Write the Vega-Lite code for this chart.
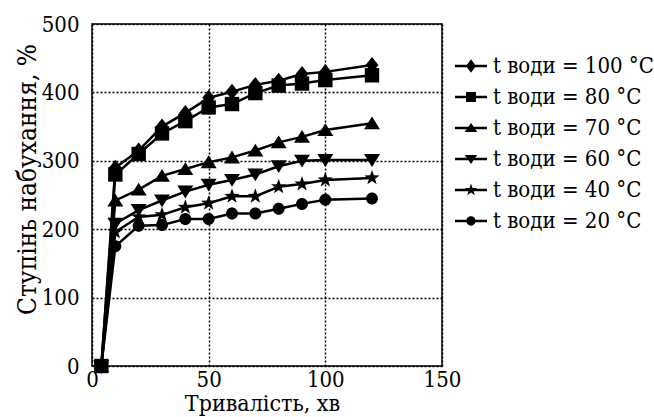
{
  "$schema": "https://vega.github.io/schema/vega-lite/v6.json",
  "autosize": {"type": "none"},
  "width": 350,
  "height": 342,
  "padding": {"left": 92, "top": 24, "right": 212, "bottom": 51},
  "background": "white",
  "config": {
    "view": {"stroke": "black", "strokeWidth": 1.5},
    "font": "DejaVu Serif Condensed, DejaVu Serif",
    "axis": {
      "labelFont": "DejaVu Serif Condensed, DejaVu Serif", "labelFontSize": 22, "labelColor": "black",
      "titleFont": "DejaVu Serif Condensed, DejaVu Serif", "titleFontSize": 23, "titleColor": "black", "titleFontWeight": "normal",
      "ticks": false, "domain": false,
      "grid": true, "gridColor": "black", "gridWidth": 1.5, "gridDash": [2, 2], "gridOpacity": 1
    },
    "legend": {"labelFont": "DejaVu Serif Condensed, DejaVu Serif"}
  },
  "data": {"values": [
    {"T": "100", "x": 4, "y": 0}, {"T": "100", "x": 10, "y": 290}, {"T": "100", "x": 20, "y": 315}, {"T": "100", "x": 30, "y": 350}, {"T": "100", "x": 40, "y": 370}, {"T": "100", "x": 50, "y": 392}, {"T": "100", "x": 60, "y": 401}, {"T": "100", "x": 70, "y": 411}, {"T": "100", "x": 80, "y": 417}, {"T": "100", "x": 90, "y": 427}, {"T": "100", "x": 100, "y": 430}, {"T": "100", "x": 120, "y": 440},
    {"T": "80", "x": 4, "y": 0}, {"T": "80", "x": 10, "y": 280}, {"T": "80", "x": 20, "y": 310}, {"T": "80", "x": 30, "y": 340}, {"T": "80", "x": 40, "y": 358}, {"T": "80", "x": 50, "y": 378}, {"T": "80", "x": 60, "y": 383}, {"T": "80", "x": 70, "y": 399}, {"T": "80", "x": 80, "y": 410}, {"T": "80", "x": 90, "y": 413}, {"T": "80", "x": 100, "y": 418}, {"T": "80", "x": 120, "y": 425},
    {"T": "70", "x": 4, "y": 0}, {"T": "70", "x": 10, "y": 242}, {"T": "70", "x": 20, "y": 258}, {"T": "70", "x": 30, "y": 278}, {"T": "70", "x": 40, "y": 288}, {"T": "70", "x": 50, "y": 298}, {"T": "70", "x": 60, "y": 305}, {"T": "70", "x": 70, "y": 315}, {"T": "70", "x": 80, "y": 327}, {"T": "70", "x": 90, "y": 335}, {"T": "70", "x": 100, "y": 345}, {"T": "70", "x": 120, "y": 355},
    {"T": "60", "x": 4, "y": 0}, {"T": "60", "x": 10, "y": 208}, {"T": "60", "x": 20, "y": 228}, {"T": "60", "x": 30, "y": 242}, {"T": "60", "x": 40, "y": 255}, {"T": "60", "x": 50, "y": 265}, {"T": "60", "x": 60, "y": 272}, {"T": "60", "x": 70, "y": 280}, {"T": "60", "x": 80, "y": 292}, {"T": "60", "x": 90, "y": 300}, {"T": "60", "x": 100, "y": 301}, {"T": "60", "x": 120, "y": 301},
    {"T": "40", "x": 4, "y": 0}, {"T": "40", "x": 10, "y": 196}, {"T": "40", "x": 20, "y": 218}, {"T": "40", "x": 30, "y": 221}, {"T": "40", "x": 40, "y": 232}, {"T": "40", "x": 50, "y": 238}, {"T": "40", "x": 60, "y": 248}, {"T": "40", "x": 70, "y": 248}, {"T": "40", "x": 80, "y": 262}, {"T": "40", "x": 90, "y": 266}, {"T": "40", "x": 100, "y": 272}, {"T": "40", "x": 120, "y": 275},
    {"T": "20", "x": 4, "y": 0}, {"T": "20", "x": 10, "y": 175}, {"T": "20", "x": 20, "y": 205}, {"T": "20", "x": 30, "y": 206}, {"T": "20", "x": 40, "y": 215}, {"T": "20", "x": 50, "y": 215}, {"T": "20", "x": 60, "y": 223}, {"T": "20", "x": 70, "y": 223}, {"T": "20", "x": 80, "y": 230}, {"T": "20", "x": 90, "y": 237}, {"T": "20", "x": 100, "y": 243}, {"T": "20", "x": 120, "y": 245}
  ]},
  "encoding": {
    "x": {"field": "x", "type": "quantitative", "scale": {"domain": [0, 150], "nice": false},
          "axis": {"values": [0, 50, 100, 150], "title": "Тривалість, хв", "labelPadding": 3, "titlePadding": 2, "titleX": 170, "labelFlush": false}},
    "y": {"field": "y", "type": "quantitative", "scale": {"domain": [0, 500], "nice": false},
          "axis": {"values": [0, 100, 200, 300, 400, 500], "title": "Ступінь набухання, %", "titleFontSize": 26, "labelPadding": 13, "titlePadding": 1, "titleY": 155}}
  },
  "resolve": {"scale": {"shape": "independent"}, "legend": {"shape": "independent"}},
  "layer": [
    {
      "mark": {"type": "line", "color": "black", "strokeWidth": 2.5},
      "encoding": {"detail": {"field": "T"}}
    },
    {
      "mark": {"type": "point", "filled": true, "color": "black", "opacity": 1, "size": 256},
      "encoding": {
        "shape": {
          "field": "T", "type": "nominal",
          "scale": {
            "domain": ["100", "80", "70", "60", "40", "20"],
            "range": [
              "M0,-1L0.8,0L0,1L-0.8,0Z",
              "M-0.9,-0.9H0.9V0.9H-0.9Z",
              "M0,-0.85L1,0.75L-1,0.75Z",
              "M0,0.85L1,-0.75L-1,-0.75Z",
              "M0,-1L0.235,-0.324L0.951,-0.309L0.38,0.124L0.588,0.809L0,0.4L-0.588,0.809L-0.38,0.124L-0.951,-0.309L-0.235,-0.324Z",
              "M0.75,0A0.75,0.75,0,1,1,-0.75,0A0.75,0.75,0,1,1,0.75,0Z"
            ]
          },
          "legend": null
        }
      }
    },
    {
      "transform": [{"filter": "datum.x < 0"}],
      "mark": {"type": "point", "filled": true, "color": "black", "opacity": 1, "size": 256},
      "encoding": {
        "shape": {
          "field": "T", "type": "nominal",
          "sort": ["100", "80", "70", "60", "40", "20"],
          "scale": {
            "domain": ["100", "80", "70", "60", "40", "20"],
            "range": [
              "M-2,-0.16H2V0.16H-2ZM0,-0.85L0.62,0L0,0.85L-0.62,0Z",
              "M-2,-0.16H2V0.16H-2ZM-0.62,-0.62H0.62V0.62H-0.62Z",
              "M-2,-0.16H2V0.16H-2ZM0,-0.62L0.78,0.5L-0.78,0.5Z",
              "M-2,-0.16H2V0.16H-2ZM0,0.62L-0.78,-0.5L0.78,-0.5Z",
              "M-2,-0.16H2V0.16H-2ZM0,-0.8L0.188,-0.259L0.761,-0.247L0.304,0.099L0.47,0.647L0,0.32L-0.47,0.647L-0.304,0.099L-0.761,-0.247L-0.188,-0.259Z",
              "M-2,-0.16H2V0.16H-2ZM0.58,0A0.58,0.58,0,1,1,-0.58,0A0.58,0.58,0,1,1,0.58,0Z"
            ]
          },
          "legend": {
            "title": null,
            "orient": "none",
            "legendX": 368,
            "legendY": 31,
            "padding": 0,
            "symbolSize": 256,
            "labelOffset": 11,
            "rowPadding": 9,
            "labelFontSize": 22,
            "labelColor": "black",
            "labelLimit": 300,
            "labelExpr": "'t води = ' + datum.label + ' °C'"
          }
        }
      }
    }
  ]
}
